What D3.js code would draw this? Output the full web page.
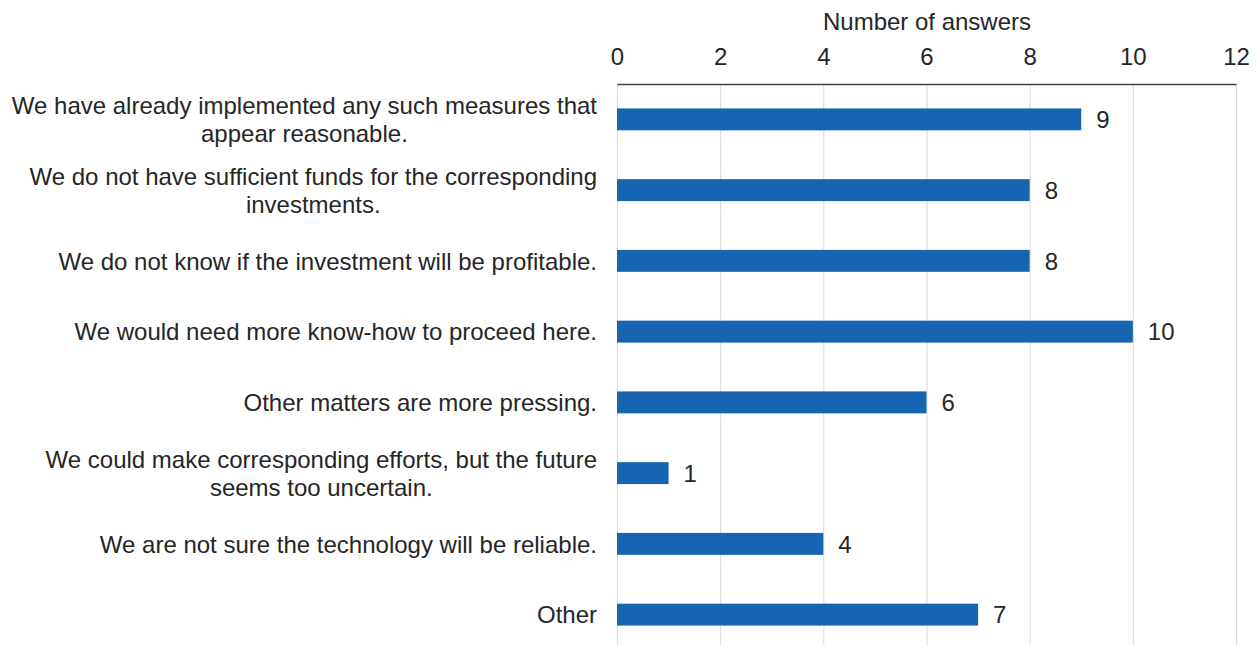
<!DOCTYPE html>
<html>
<head>
<meta charset="utf-8">
<script src="https://cdn.jsdelivr.net/npm/d3@7"></script>
<style>
  html, body { margin: 0; padding: 0; background: #fff; }
  svg { display: block; font-family: "Liberation Sans", Arial, sans-serif; }
</style>
</head>
<body>
<svg id="chart" width="1258" height="645"></svg>
<script>
// Survey answers: reasons given, with number of respondents choosing each
const categories = [
  ["We have already implemented any such measures that", "appear reasonable."],
  ["We do not have sufficient funds for the corresponding", "investments."],
  ["We do not know if the investment will be profitable."],
  ["We would need more know-how to proceed here."],
  ["Other matters are more pressing."],
  ["We could make corresponding efforts, but the future", "seems too uncertain."],
  ["We are not sure the technology will be reliable."],
  ["Other"]
];
const answers = [9, 8, 8, 10, 6, 1, 4, 7];
const xTicks = [0, 2, 4, 6, 8, 10, 12];
const axisTitle = "Number of answers";

const svg = d3.select("#chart");
const plotLeft = 617, plotRight = 1236, plotTop = 84, plotBottom = 650;
const textColor = "#262626";

const x = d3.scaleLinear().domain([0, 12]).range([plotLeft, plotRight]);
const y = d3.scaleBand()
  .domain(d3.range(categories.length))
  .range([plotTop, plotBottom])
  .paddingInner(0.69)
  .paddingOuter(0.345);

// vertical gridlines
svg.append("g")
  .selectAll("line")
  .data(xTicks)
  .join("line")
  .attr("x1", d => x(d) + 0.5).attr("x2", d => x(d) + 0.5)
  .attr("y1", plotTop).attr("y2", 645)
  .attr("stroke", "#d9d9d9")
  .attr("stroke-width", 1);

// top axis
const axis = d3.axisTop(x).tickValues(xTicks).tickSize(0).tickPadding(19);
const ag = svg.append("g").attr("transform", `translate(0,${plotTop})`).call(axis);
ag.select(".domain").attr("stroke", "#404040").attr("stroke-width", 1.5);
ag.selectAll("text")
  .attr("font-size", 24)
  .attr("fill", textColor)
  .attr("font-family", "'Liberation Sans', Arial, sans-serif");

svg.append("text")
  .attr("x", (x(0) + x(12)) / 2 + 0.5)
  .attr("y", 30)
  .attr("text-anchor", "middle")
  .attr("font-size", 24)
  .attr("fill", textColor)
  .text(axisTitle);

// bars
svg.append("g")
  .selectAll("rect")
  .data(answers)
  .join("rect")
  .attr("x", x(0))
  .attr("y", (d, i) => y(i))
  .attr("width", d => x(d) - x(0))
  .attr("height", y.bandwidth())
  .attr("fill", "#1764b0");

// value labels
svg.append("g")
  .selectAll("text")
  .data(answers)
  .join("text")
  .attr("x", d => x(d) + 15)
  .attr("y", (d, i) => y(i) + y.bandwidth() / 2)
  .attr("dy", "0.36em")
  .attr("font-size", 24)
  .attr("fill", textColor)
  .text(d => d);

// category labels: multi-line blocks centred internally, right edge aligned
const labelRight = 597;
const lineGap = 28;
const lg = svg.append("g")
  .attr("font-size", 24)
  .attr("fill", textColor);

categories.forEach((lines, i) => {
  const cy = y(i) + y.bandwidth() / 2;
  const g = lg.append("g");
  const texts = lines.map((s, j) => g.append("text")
    .attr("y", cy + (j - (lines.length - 1) / 2) * lineGap)
    .attr("dy", "0.36em")
    .attr("text-anchor", "middle")
    .text(s));
  const widths = texts.map(t => t.node().getComputedTextLength());
  const w = d3.max(widths);
  texts.forEach(t => t.attr("x", labelRight - w / 2));
});
</script>
</body>
</html>
